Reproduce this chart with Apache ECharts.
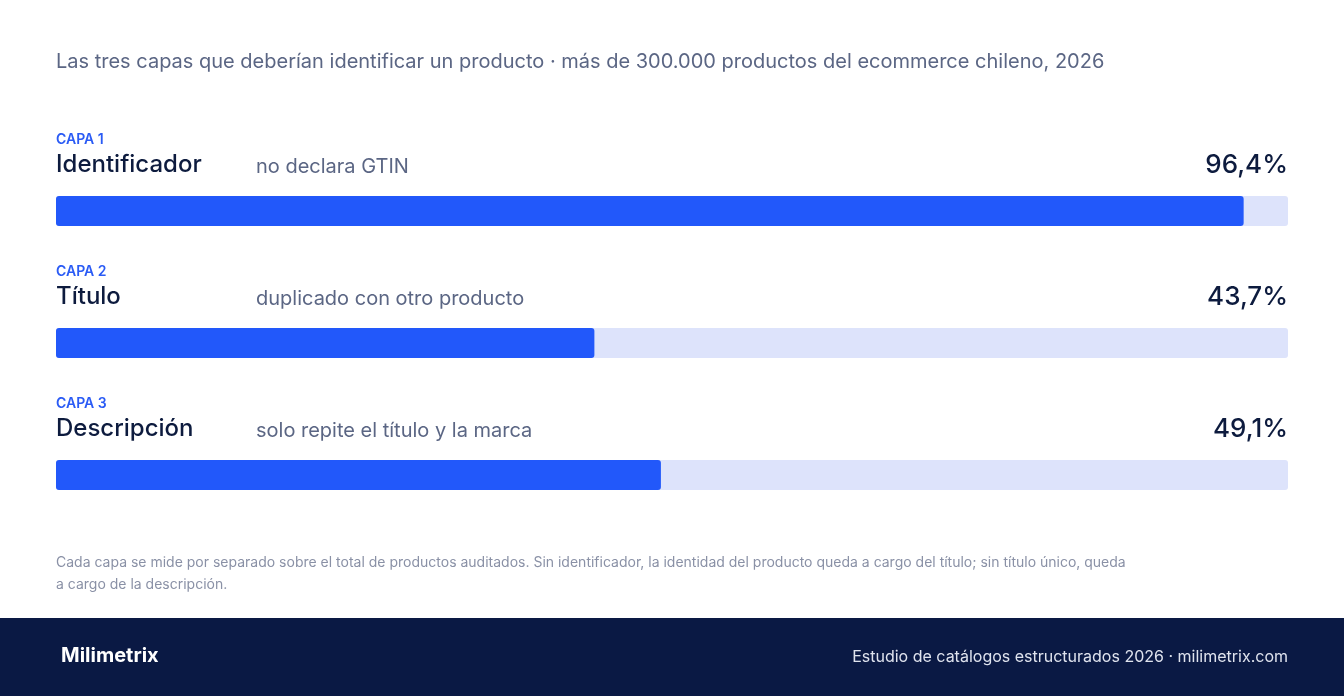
<!DOCTYPE html>
<html><head><meta charset="utf-8">
<script src="https://cdn.jsdelivr.net/npm/echarts@6/dist/echarts.min.js"></script>
<style>html,body{margin:0;padding:0;background:#fff}#c{width:1344px;height:696px}</style>
</head><body><div id="c"></div>
<script>
const layers = ['CAPA 1','CAPA 2','CAPA 3'];
const names = ['Identificador','Título','Descripción'];
const descriptions = ['no declara GTIN','duplicado con otro producto','solo repite el título y la marca'];
const values = [96.4, 43.7, 49.1];
const valueLabels = ['96,4%','43,7%','49,1%'];

const F = 'Inter, "Noto Sans", sans-serif';
const chart = echarts.init(document.getElementById('c'));
const g = [];
g.push({type:'text',left:56,top:52,style:{text:'Las tres capas que deberían identificar un producto · más de 300.000 productos del ecommerce chileno, 2026',font:'400 20px '+F,fill:'#5b6684'}});
layers.forEach((l,i)=>{
  const y0 = 132*i;
  g.push({type:'text',left:56,top:133+y0,style:{text:l,font:'600 14px '+F,fill:'#2a5bf5',letterSpacing:1.5}});
  g.push({type:'text',left:56,top:153+y0,style:{text:names[i],font:'500 24px '+F,fill:'#0d1b3e'}});
  g.push({type:'text',left:256,top:157+y0,style:{text:descriptions[i],font:'400 20px '+F,fill:'#5b6684'}});
  g.push({type:'text',right:56,top:152+y0,style:{text:valueLabels[i],font:'500 26px '+F,fill:'#0d1b3e'}});
});
g.push({type:'text',left:56,top:552,style:{text:'Cada capa se mide por separado sobre el total de productos auditados. Sin identificador, la identidad del producto queda a cargo del título; sin título único, queda\na cargo de la descripción.',font:'400 14px '+F,fill:'#8a91a6',lineHeight:22}});
g.push({type:'rect',left:0,top:618,shape:{width:1344,height:78},style:{fill:'#0a1944'}});
g.push({type:'text',left:61,top:646,style:{text:'Milimetrix',font:'700 20px '+F,fill:'#fff',letterSpacing:-0.5}});
g.push({type:'text',right:56,top:649,style:{text:'Estudio de catálogos estructurados 2026 · milimetrix.com',font:'400 16px '+F,fill:'#dfe3ee'}});

chart.setOption({
  animation:false,
  grid:{left:56,right:56,top:145,height:396},
  xAxis:{type:'value',min:0,max:100,show:false},
  yAxis:{type:'category',inverse:true,data:names,show:false},
  series:[
    {type:'bar',data:values.map(()=>100),barWidth:30,barGap:'-100%',silent:true,itemStyle:{color:'#dde3fb',borderRadius:3},z:1},
    {type:'bar',data:values,barWidth:30,itemStyle:{color:'#2258fa',borderRadius:3},z:2}
  ],
  graphic:g
});
</script></body></html>
